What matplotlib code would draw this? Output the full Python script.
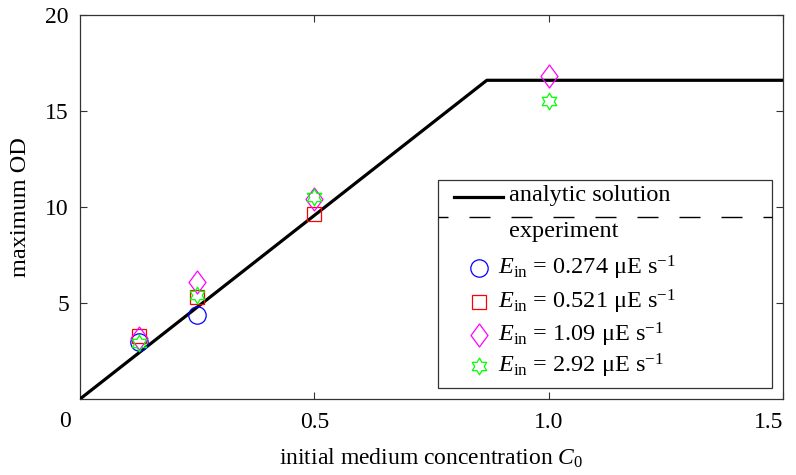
import numpy as np
import matplotlib
matplotlib.use("Agg")
import matplotlib.pyplot as plt
from matplotlib.path import Path
from matplotlib.patches import Rectangle
from matplotlib.lines import Line2D

plt.rcParams['font.family'] = ['Liberation Serif', 'DejaVu Serif']
plt.rcParams['mathtext.fontset'] = 'custom'
plt.rcParams['mathtext.rm'] = 'Liberation Serif'
plt.rcParams['mathtext.it'] = 'Liberation Serif:italic'
plt.rcParams['font.size'] = 17

# ---- data ----
analytic_x = [0.0, 0.868, 1.5]
analytic_y = [0.0, 16.6, 16.6]

c0_circle = [0.125, 0.25]
od_circle = [2.95, 4.4]
c0_square = [0.125, 0.25, 0.5]
od_square = [3.3, 5.3, 9.65]
c0_diamond = [0.125, 0.25, 0.5, 1.0]
od_diamond = [3.2, 6.1, 10.4, 16.8]
c0_star = [0.125, 0.25, 0.5, 1.0]
od_star = [2.9, 5.4, 10.5, 15.5]

legend_labels = [r"$E_{\mathrm{in}}$ = 0.274 μE s$^{-1}$",
                 r"$E_{\mathrm{in}}$ = 0.521 μE s$^{-1}$",
                 r"$E_{\mathrm{in}}$ = 1.09 μE s$^{-1}$",
                 r"$E_{\mathrm{in}}$ = 2.92 μE s$^{-1}$"]
xticks = [0.5, 1.0, 1.5]
xticklabels = ["0.5", "1.0", "1.5"]
yticks = [5, 10, 15, 20]
yticklabels = ["5", "10", "15", "20"]

# marker shapes
ang_o = np.deg2rad(90 + 60 * np.arange(6))
ang_i = ang_o + np.deg2rad(30)
r_in = 1 / np.sqrt(3)
verts = []
for a, b in zip(ang_o, ang_i):
    verts.append((np.cos(a), np.sin(a)))
    verts.append((r_in * np.cos(b), r_in * np.sin(b)))
verts.append(verts[0])
hexagram = Path(verts, closed=True)
diamond = Path([(0, 1), (0.74, 0), (0, -1), (-0.74, 0), (0, 1)], closed=True)

fig = plt.figure(figsize=(7.96, 4.75), dpi=100)
ax = fig.add_axes([80 / 796, 1 - 399 / 475, 703 / 796, 384 / 475])

ax.plot(analytic_x, analytic_y, color='black', lw=2.3, solid_capstyle='butt', zorder=3)

mk = dict(linestyle='none', markerfacecolor='none', markeredgewidth=0.9, zorder=4)
styles = [
    dict(marker='o', color='blue', markersize=12.5),
    dict(marker='s', color='red', markersize=10),
    dict(marker=diamond, color='#ff00ff', markersize=16.5),
    dict(marker=hexagram, color='#00ff00', markersize=12),
]
series = [(c0_circle, od_circle), (c0_square, od_square),
          (c0_diamond, od_diamond), (c0_star, od_star)]
for (xs, ys), st in zip(series, styles):
    ax.plot(xs, ys, markeredgecolor=st['color'], marker=st['marker'],
            markersize=st['markersize'], **mk)

ax.set_xlim(0, 1.5)
ax.set_ylim(0, 20)
ax.set_xticks(xticks)
ax.set_xticklabels(xticklabels)
ax.set_yticks(yticks)
ax.set_yticklabels(yticklabels)
ax.tick_params(direction='in', length=5, width=0.8, top=True, right=True,
               labelsize=17, color='#333333')
ax.tick_params(axis='x', pad=9)
ax.tick_params(axis='y', pad=8)
ax.get_xticklabels()[-1].set_horizontalalignment('right')
for s in ax.spines.values():
    s.set_linewidth(0.9)
    s.set_color('#333333')
ax.text(-0.022, -0.032, "0", transform=ax.transAxes, ha='center', va='top', fontsize=17)

ax.set_xlabel(r"initial medium concentration $C_{\mathrm{0}}$", fontsize=17, labelpad=10)
ax.set_ylabel("maximum OD", fontsize=17.5, labelpad=10)

# ---- manual legend (in figure pixels) ----
def fx(px):
    return px / 796
def fy(py):
    return 1 - py / 475

leg = Rectangle((fx(438), fy(388)), fx(772) - fx(438), fy(180) - fy(388),
                transform=fig.transFigure, facecolor='white', edgecolor='#333333',
                lw=0.9, zorder=5)
fig.add_artist(leg)
fig.add_artist(Line2D([fx(454), fx(503)], [fy(197), fy(197)], transform=fig.transFigure,
                      color='black', lw=2.3, zorder=6))
fig.text(fx(509), fy(195), "analytic solution", ha='left', va='center', fontsize=17.5, zorder=6)
dash_pt = 21 * 72 / 100
fig.add_artist(Line2D([fx(438), fx(772)], [fy(217), fy(217)], transform=fig.transFigure,
                      color='black', lw=1.0,
                      linestyle=(11 * 72 / 100, (dash_pt, dash_pt)), zorder=6))
fig.text(fx(509), fy(232), "experiment", ha='left', va='center', fontsize=17.5, zorder=6)
rows = [268, 302, 335, 366]
for py, st, lab in zip(rows, styles, legend_labels):
    fig.add_artist(Line2D([fx(479)], [fy(py)], transform=fig.transFigure,
                          marker=st['marker'], markersize=st['markersize'],
                          markeredgecolor=st['color'], markerfacecolor='none',
                          markeredgewidth=0.9, linestyle='none', zorder=6))
    fig.text(fx(498), fy(py), lab, ha='left', va='center', fontsize=17.5, zorder=6)

fig.savefig("out.png", dpi=100)
